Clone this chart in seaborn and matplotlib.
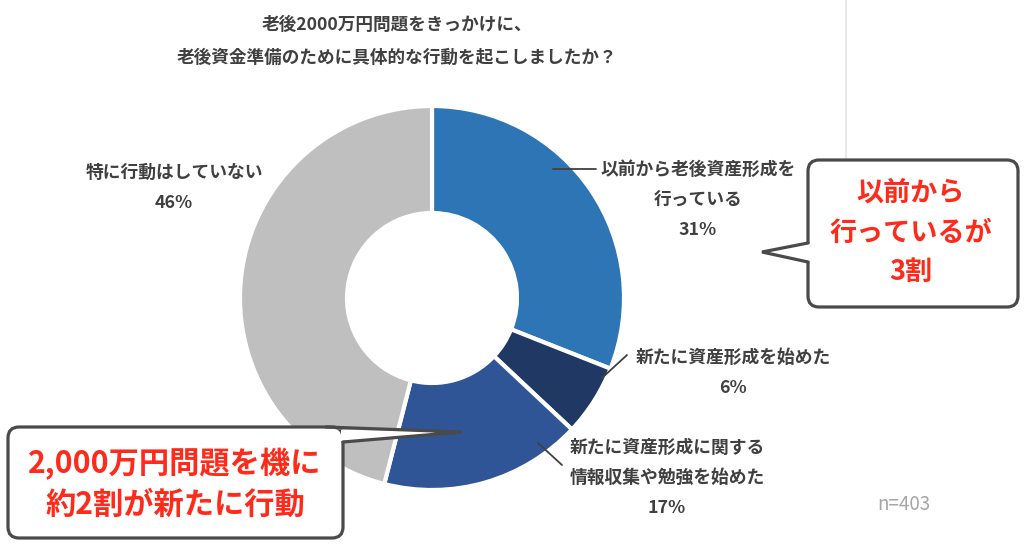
import numpy as np
import matplotlib
matplotlib.use("Agg")
import matplotlib.pyplot as plt
import seaborn as sns
from matplotlib.patches import FancyBboxPatch, Polygon

sns.set_theme(style="white")
plt.rcParams['font.family'] = ['Noto Sans CJK JP', 'DejaVu Sans']

# data
title_lines = ["老後2000万円問題をきっかけに、", "老後資金準備のために具体的な行動を起こしましたか？"]
labels = ["以前から老後資産形成を\n行っている",
          "新たに資産形成を始めた",
          "新たに資産形成に関する\n情報収集や勉強を始めた",
          "特に行動はしていない"]
values = [31, 6, 17, 46]
colors = ["#2E75B6", "#1F3864", "#2F5597", "#BFBFBF"]
n_text = "n=403"
callout_right = ["以前から", "行っているが", "3割"]
callout_left = ["2,000万円問題を機に", "約2割が新たに行動"]

# layout (pixel coords, y downwards)
W, H = 1024, 549
cx, cy, r_out, r_in = 432, 298, 192, 85
label_pos = [(698, 170), (733, 358), (667, 448), (174, 173)]
leaders = [[(553, 169), (596, 169)],
           [(602, 378), (627, 355)],
           [(538, 443), (562, 465)],
           None]
text_col = "#404040"
red = "#FF2A1A"
box_col = "#4A4A4A"

fig = plt.figure(figsize=(W / 100, H / 100), dpi=100)
ax = fig.add_axes([0, 0, 1, 1])

# donut (y axis inverted below -> start at -90, counterclock=True draws clockwise from top)
ax.pie(values, colors=colors, startangle=-90, counterclock=True,
       center=(cx, cy), radius=r_out,
       wedgeprops=dict(width=r_out - r_in, edgecolor="white", linewidth=3))

ax.set_xlim(0, W)
ax.set_ylim(H, 0)
ax.set_aspect("equal")
ax.axis("off")

# title
for i, t in enumerate(title_lines):
    ax.text(397, 25 + i * 33, t, ha="center", va="center", fontsize=12.7,
            color=text_col, fontweight="bold")

# slice labels
step = 30
for lab, v, (x, y), ld in zip(labels, values, label_pos, leaders):
    lines = lab.split("\n") + [f"{v}%"]
    for j, ln in enumerate(lines):
        ax.text(x, y + j * step, ln, ha="center", va="center", fontsize=12.8,
                color=text_col, fontweight="bold")
    if ld is not None:
        ax.plot([p[0] for p in ld], [p[1] for p in ld], color=text_col, lw=1.3)

# faint chart border
ax.plot([846, 846], [0, 158], color="#E4E4E4", lw=1.2)

ax.text(877, 505, n_text, ha="left", va="center", fontsize=13.5, color="#A6A6A6")


def callout(x0, y0, x1, y1, cover, tail):
    box = FancyBboxPatch((x0, y0), x1 - x0, y1 - y0,
                         boxstyle="round,pad=0,rounding_size=11",
                         fc="white", ec=box_col, lw=2.3, zorder=5)
    ax.add_patch(box)
    ax.add_patch(Polygon(cover, closed=True, fc="white", ec="none", zorder=6))
    ax.plot([p[0] for p in tail], [p[1] for p in tail], color=box_col, lw=2.3,
            solid_joinstyle="miter", zorder=7)


callout(808, 160, 1018, 307,
        [(811, 243.5), (762, 252), (811, 261.5)],
        [(808, 243), (762, 252), (808, 262)])
for i, t in enumerate(callout_right):
    ax.text(911, 193 + i * 39.5, t, ha="center", va="center", fontsize=19.5,
            color=red, fontweight="bold", zorder=8)

callout(8, 427, 343, 538,
        [(328, 429.5), (462, 432), (341, 441), (341, 429.5)],
        [(326, 427), (462, 432), (343, 442)])
for i, t in enumerate(callout_left):
    ax.text(175, 464 + i * 41, t, ha="center", va="center", fontsize=21.8,
            color=red, fontweight="bold", zorder=8)

fig.savefig("out.png", dpi=100, facecolor="white")
